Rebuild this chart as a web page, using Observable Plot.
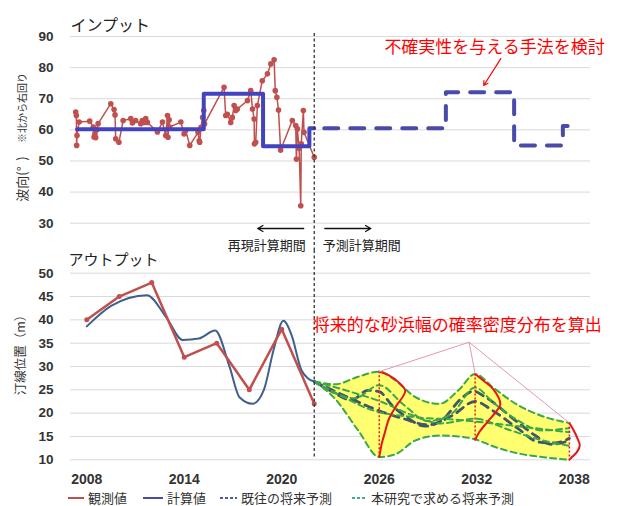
<!DOCTYPE html>
<html><head><meta charset="utf-8">
<script src="https://cdn.jsdelivr.net/npm/d3@7"></script>
<script src="https://cdn.jsdelivr.net/npm/@observablehq/plot@0.6"></script>
<style>
body{margin:0;background:#fff;}
#wrap{position:relative;width:619px;height:506px;overflow:hidden;font-family:'Noto Sans CJK JP',sans-serif;}
#top,#bot{position:absolute;left:0;}
#top{top:0}#bot{top:250px}
#legend{position:absolute;top:489px;left:0;width:619px;height:17px;font-size:13px;color:#333;}
.item{position:absolute;top:0;display:flex;align-items:center;white-space:nowrap;line-height:17px}
.item svg{margin-right:4px}
</style></head>
<body><div id="wrap"><div id="top"></div><div id="bot"></div><div id="legend"></div></div>
<script>
// ---------- DATA ----------
// Input: observed wave direction (deg)
const waveYears = [2007.32,2007.36,2007.38,2007.40,2007.53,2008.18,2008.40,2008.45,2008.50,2008.55,2008.62,2008.70,
  2009.48,2009.68,2009.74,2009.78,2009.98,2010.24,2010.71,2010.81,2011.01,2011.32,2011.42,2011.52,2011.63,2011.73,
  2012.35,2012.66,2012.86,2012.97,2013.00,2013.07,2013.10,2013.79,2013.99,2014.09,2014.34,
  2014.85,2014.92,2014.95,2015.03,2015.13,2015.20,2015.25,2016.45,2016.55,2016.65,2016.86,2016.96,2017.07,2017.17,2017.27,
  2017.89,2018.09,2018.20,2018.30,2018.32,2018.40,2018.50,2018.80,2019.12,2019.33,2019.53,2019.60,2019.70,2019.80,2019.93,
  2020.65,2020.86,2020.90,2020.96,2021.07,2021.17,2021.20,2021.33,2021.37,2022.00];
const waveDeg = [65.7,64.6,55.0,58.2,62.5,62.8,60.9,57.7,58.7,57.5,60.0,62.0,
  68.4,66.5,64.8,57.1,56.0,63.0,63.6,62.2,63.0,62.0,63.0,62.4,63.6,62.4,
  59.3,62.5,58.2,64.6,57.6,63.2,60.9,62.5,58.7,59.8,55.0,
  59.2,56.5,56.0,60.8,64.0,66.2,61.9,73.7,64.6,65.0,62.4,64.0,67.8,66.2,66.7,
  69.4,72.6,66.7,63.5,55.5,56.0,67.8,75.8,78.0,81.2,82.5,72.6,70.5,66.4,53.5,
  63.0,61.4,50.6,60.3,54.0,35.6,55.5,66.2,59.2,51.2];
// Input: computed (step) wave direction
const calcPastYears = [2007.4, 2015.2, 2018.85, 2021.7, 2022];
const calcPastDeg   = [60.2, 71.6, 54.7, 60.5, 60.5];
const calcFutureYears = [2022, 2030.1, 2034.3, 2037.3, 2038];
const calcFutureDeg   = [60.5, 72.1, 55.0, 61.2, 61.2];

// Output: shoreline position (m)
const obsYears = [2008, 2010, 2012, 2014, 2016, 2018, 2020, 2022];
const obsPos   = [40, 45, 48, 32, 35, 25, 38, 22];
const calcYears = [2008, 2009.5, 2011.7, 2012.9, 2013.9, 2014.9, 2015.9, 2016.8, 2017.4, 2018.2, 2018.9, 2019.5, 2020.1, 2020.6, 2021.2, 2021.6, 2022];
const calcPos   = [38.6, 43.0, 45.3, 40.5, 35.7, 36.0, 37.7, 29.8, 23.4, 22.0, 25.0, 33.6, 39.8, 36.8, 29.3, 27.5, 26.8];

// Future envelope (this study)
const envYears = [2022, 2023.3, 2024.7, 2026, 2027, 2028.2, 2029.7, 2030.9, 2031.9, 2033, 2034.5, 2036, 2037.7];
const envUpper = [26.8, 26.2, 27.8, 28.9, 27.0, 23.5, 22.0, 25.0, 28.4, 25.5, 21.8, 19.4, 17.9];
const envLower = [26.8, 23.0, 16.3, 10.6, 11.2, 14.1, 15.2, 15.0, 14.4, 12.9, 11.4, 10.6, 10.0];
// Previous forecasts (dark dashed)
const d1Years = [2022, 2023, 2024.3, 2025.3, 2026, 2026.8, 2027.7, 2028.8, 2029.9, 2031, 2031.8, 2032.5, 2034.5, 2035.6, 2036.6, 2037.7];
const d1Pos   = [26.8, 24.8, 22.8, 24.9, 24.6, 21.6, 19.1, 17.2, 18.6, 23.0, 24.7, 23.5, 18.1, 15.2, 13.3, 14.1];
const d2Years = [2022, 2024, 2026, 2027.5, 2029, 2030.5, 2031.9, 2033, 2034.5, 2035.8, 2036.8, 2037.7];
const d2Pos   = [26.8, 23.5, 20.5, 18.8, 17.5, 19.5, 22.5, 20.5, 16.8, 13.8, 13.6, 14.6];
// This study's forecasts (green dashed)
const g1Years = [2022, 2023.5, 2025.6, 2028.3, 2030.7, 2034, 2037.7];
const g1Pos   = [26.8, 24.0, 20.6, 19.1, 18.6, 17.4, 15.9];
const g2Years = [2022, 2024.5, 2026, 2027.5, 2029, 2030.5, 2031.9, 2033, 2034.5, 2036, 2037.7];
const g2Pos   = [26.8, 23.2, 26.0, 21.8, 18.3, 20.0, 25.5, 22.3, 18.5, 16.3, 16.8];
const g3Years = [2022, 2024.5, 2026, 2028, 2029.8, 2031.9, 2034, 2036, 2037.7];
const g3Pos   = [26.8, 24.3, 22.6, 19.6, 17.8, 18.8, 16.4, 14.2, 13.0];
// Probability density curves
const distYears = [2026, 2031.9, 2037.7];
const dist2026Pos = [28.9, 28.1, 26.6, 24.9, 23.8, 21.3, 18.8, 15.9, 13.4, 10.6];
const dist2026W   = [0, 0.6, 1.2, 1.6, 1.5, 1.0, 0.6, 0.35, 0.15, 0];
const dist2032Pos = [28.4, 27.0, 25.2, 22.0, 20.6, 18.1, 15.9, 14.3];
const dist2032W   = [0, 0.5, 1.1, 1.55, 1.35, 0.75, 0.25, 0];
const dist2038Pos = [17.9, 16.3, 14.5, 13.1, 11.7, 10.6, 10.0];
const dist2038W   = [0, 0.27, 0.51, 0.64, 0.47, 0.16, 0];

const topTicks = [30, 40, 50, 60, 70, 80, 90];
const botTicks = [10, 15, 20, 25, 30, 35, 40, 45, 50];
const xTicks = [2008, 2014, 2020, 2026, 2032, 2038];

// ---------- HELPERS ----------
const pts = (xs, ys) => xs.map((x, i) => ({x, y: ys[i]}));
const JP = "'Noto Sans CJK JP', sans-serif";
const NUM = "'Liberation Sans', Arial, sans-serif";
const RED = "#c0504d", BLUE = "#4343bf", CALC = "#3f5f8f", DARK = "#44546a", GREEN = "#3aa84a";

const wave = pts(waveYears, waveDeg);
const stepPast = pts(calcPastYears, calcPastDeg);
const stepFuture = pts(calcFutureYears, calcFutureDeg);

const topPlot = Plot.plot({
  width: 619, height: 250,
  marginLeft: 70, marginRight: 29, marginTop: 36, marginBottom: 27.3,
  style: {overflow: "visible", fontFamily: JP, background: "transparent"},
  x: {domain: [2007, 2039], axis: null},
  y: {domain: [30, 90]},
  marks: [
    Plot.gridY(topTicks, {stroke: "#d9d9d9", strokeOpacity: 1}),
    Plot.axisY(topTicks, {tickSize: 0, tickPadding: 17, fontSize: 13.5, fontWeight: "bold", fontFamily: NUM, color: "#333", label: null}),
    Plot.line(wave, {x: "x", y: "y", stroke: RED, strokeWidth: 1.5}),
    Plot.dot(wave, {x: "x", y: "y", r: 2.8, fill: RED}),
    Plot.line(stepPast, {x: "x", y: "y", curve: "step-after", stroke: BLUE, strokeWidth: 4}),
    Plot.line(stepFuture, {x: "x", y: "y", curve: "step-after", stroke: "#4a4aa8", strokeWidth: 4, strokeDasharray: "14,12", strokeDashoffset: -10}),
    Plot.ruleX([2022], {y1: 91, y2: 21.2, stroke: "#333", strokeWidth: 1.3, strokeDasharray: "3,2.5"}),
    Plot.arrow([0], {x1: 2021.35, y1: 28.3, x2: 2018.52, y2: 28.3, stroke: "#111", strokeWidth: 1.3, headLength: 7}),
    Plot.arrow([0], {x1: 2022.65, y1: 28.3, x2: 2025.48, y2: 28.3, stroke: "#111", strokeWidth: 1.3, headLength: 7}),
    Plot.text(["再現計算期間"], {x: 2021.48, y: 22.8, text: d => d, textAnchor: "end", fontSize: 13, fill: "#222"}),
    Plot.text(["予測計算期間"], {x: 2022.52, y: 22.8, text: d => d, textAnchor: "start", fontSize: 13, fill: "#222"}),
    Plot.text(["インプット"], {x: 2007, y: 93.5, text: d => d, textAnchor: "start", fontSize: 16, fill: "#222"}),
    Plot.text(["※北から右回り"], {x: 2004.05, y: 67, text: d => d, rotate: -90, fontSize: 10, fill: "#333"}),
    Plot.text(["波向(°  )"], {x: 2004.05, y: 44.2, text: d => d, rotate: -90, fontSize: 13, fill: "#333"}),
    Plot.text(["不確実性を与える手法を検討"], {x: 2033.1, y: 86.6, text: d => d, fontSize: 17, fill: "#ff0000"}),
    Plot.arrow([0], {x1: 2033.48, y1: 82.9, x2: 2032.43, y2: 74.25, stroke: "#ff0000", strokeWidth: 1.2, headLength: 6})
  ]
});
document.getElementById("top").appendChild(topPlot);

const env = envYears.map((x, i) => ({x, hi: envUpper[i], lo: envLower[i]}));
const darkLines = [pts(d1Years, d1Pos), pts(d2Years, d2Pos)];
const greenLines = [pts(g1Years, g1Pos), pts(g2Years, g2Pos), pts(g3Years, g3Pos), pts(envYears, envUpper), pts(envYears, envLower)];
const dists = [[dist2026Pos, dist2026W], [dist2032Pos, dist2032W], [dist2038Pos, dist2038W]]
  .map(([p, w], k) => p.map((y, i) => ({x: distYears[k] + w[i], y})));
const distTops = dists.map((d, k) => ({x: distYears[k], top: d[0].y, bottom: d[d.length - 1].y}));
const apex = {x: 2031.53, y: 35.2};

const botPlot = Plot.plot({
  width: 619, height: 240,
  marginLeft: 70, marginRight: 29, marginTop: 22.7, marginBottom: 30.7,
  style: {overflow: "visible", fontFamily: JP, background: "transparent"},
  x: {domain: [2007, 2039]},
  y: {domain: [10, 50]},
  marks: [
    Plot.gridY(botTicks, {stroke: "#d9d9d9", strokeOpacity: 1}),
    Plot.axisY(botTicks, {tickSize: 0, tickPadding: 17, fontSize: 13.5, fontWeight: "bold", fontFamily: NUM, color: "#333", label: null}),
    Plot.axisX(xTicks, {tickSize: 0, tickPadding: 14, fontSize: 14, fontWeight: "bold", fontFamily: NUM, color: "#333", label: null, tickFormat: d => String(d)}),
    Plot.areaY(env, {x: "x", y1: "lo", y2: "hi", fill: "#ffff70", curve: "monotone-x"}),
    ...darkLines.map(l => Plot.line(l, {x: "x", y: "y", stroke: DARK, strokeWidth: 2.8, strokeDasharray: "8,6", curve: "monotone-x"})),
    ...greenLines.map(l => Plot.line(l, {x: "x", y: "y", stroke: GREEN, strokeWidth: 2, strokeDasharray: "6,4", curve: "monotone-x"})),
    Plot.ruleX(distTops, {x: "x", y1: "top", y2: "bottom", stroke: "#e02020", strokeWidth: 1.5, strokeDasharray: "2,2"}),
    ...dists.map(d => Plot.line(d, {x: "x", y: "y", stroke: "#e8141c", strokeWidth: 2, curve: "catmull-rom"})),
    Plot.link(distTops, {x1: () => apex.x, y1: () => apex.y, x2: "x", y2: "top", stroke: "#e49aa2", strokeWidth: 1}),
    Plot.line(pts(calcYears, calcPos), {x: "x", y: "y", stroke: CALC, strokeWidth: 2, curve: "monotone-x"}),
    Plot.line(pts(obsYears, obsPos), {x: "x", y: "y", stroke: RED, strokeWidth: 2.5}),
    Plot.dot(pts(obsYears, obsPos), {x: "x", y: "y", r: 2.5, fill: RED}),
    Plot.ruleX([2022], {y1: 54.86, y2: 10.3, stroke: "#333", strokeWidth: 1.3, strokeDasharray: "3,2.5"}),
    Plot.text(["アウトプット"], {x: 2006.88, y: 52.7, text: d => d, textAnchor: "start", fontSize: 15, fill: "#222"}),
    Plot.text(["汀線位置（m）"], {x: 2003.94, y: 33.1, text: d => d, rotate: -90, fontSize: 12.5, fill: "#333"}),
    Plot.text(["将来的な砂浜幅の確率密度分布を算出"], {x: 2030.8, y: 38.8, text: d => d, fontSize: 17, fill: "#ff0000"})
  ]
});
document.getElementById("bot").appendChild(botPlot);

// ---------- LEGEND ----------
const legendItems = [
  {label: "観測値", color: RED, dash: null, left: 68, w: 16},
  {label: "計算値", color: "#4a4aa8", dash: null, left: 143, w: 20},
  {label: "既往の将来予測", color: "#505a9a", dash: "3,2", left: 220, w: 17},
  {label: "本研究で求める将来予測", color: "#40b080", dash: "3,2", left: 352, w: 15}
];
const leg = document.getElementById("legend");
legendItems.forEach(it => {
  const d = document.createElement("div");
  d.className = "item";
  d.style.left = it.left + "px";
  d.innerHTML = `<svg width="${it.w}" height="10"><line x1="0" y1="5" x2="${it.w}" y2="5" stroke="${it.color}" stroke-width="2"${it.dash ? ` stroke-dasharray="${it.dash}"` : ""}/></svg><span>${it.label}</span>`;
  leg.appendChild(d);
});
</script></body></html>
